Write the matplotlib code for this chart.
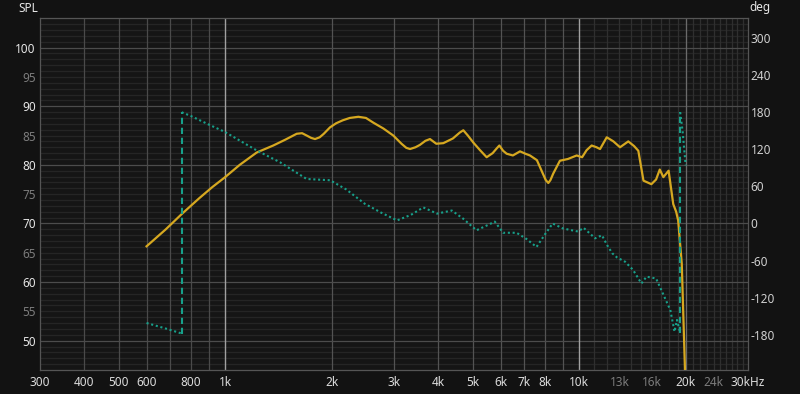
import matplotlib
matplotlib.use("Agg")
import matplotlib.pyplot as plt
import numpy as np

# SPL magnitude (dB)
spl_freq = [600, 680, 754, 845, 920, 1000, 1100, 1228, 1368, 1480, 1593, 1650, 1700, 1750,
            1795, 1850, 1900, 1979, 2060, 2150, 2250, 2379, 2500, 2622, 2800, 2986, 3150,
            3250, 3330, 3450, 3550, 3680, 3791, 3950, 4135, 4400, 4600, 4709, 4850, 5026,
            5250, 5481, 5700, 5850, 5953, 6100, 6241, 6500, 6809, 7050, 7265, 7600, 7900,
            8050, 8186, 8300, 8450, 8826, 9300, 9845, 10200, 10500, 10850, 11200, 11460,
            11970, 12500, 13050, 13770, 14300, 14700, 15200, 15600, 16000, 16500, 16900,
            17300, 17900, 18450, 18800, 19050, 19500, 19900, 20000]
spl_db = [66.1, 69.0, 71.6, 74.3, 76.2, 77.9, 80.0, 82.1, 83.3, 84.3, 85.3, 85.4, 85.0, 84.6,
          84.4, 84.7, 85.3, 86.4, 87.1, 87.6, 88.0, 88.2, 88.0, 87.2, 86.2, 85.0, 83.6,
          82.9, 82.7, 83.0, 83.4, 84.1, 84.4, 83.6, 83.7, 84.5, 85.5, 85.9, 85.0, 83.8,
          82.5, 81.3, 82.0, 82.8, 83.3, 82.4, 81.9, 81.6, 82.3, 81.9, 81.6, 80.8, 78.5,
          77.4, 76.9, 77.4, 78.5, 80.7, 81.0, 81.6, 81.3, 82.5, 83.3, 83.0, 82.7,
          84.7, 84.0, 83.0, 84.0, 83.2, 82.4, 77.3, 77.0, 76.7, 77.5, 79.2,
          77.9, 79.0, 73.3, 72.0, 70.5, 63.1, 45.5, 40.0]

# phase (deg), split where it wraps from -180 to +180
phase_freq_1 = [600, 680, 754]
phase_deg_1 = [-161, -170, -178]
phase_freq_2 = [754, 800, 900, 1000, 1230, 1430, 1700, 1980, 2200, 2480, 2750, 3060, 3350,
                3630, 3970, 4370, 4700, 5130, 5450, 5780, 6100, 6660, 7100, 7580, 8000, 8420,
                9000, 9930, 10300, 11100, 11600, 12000, 12400, 12800, 13500, 14200, 15000,
                15500, 16500, 17300, 18100, 18600, 18900, 19300]
phase_deg_2 = [180, 174, 160, 148, 118, 99, 72, 70, 55, 32, 18, 5, 14,
               26, 16, 21, 8, -11, -4, 3, -15, -15, -25, -38, -18, 0,
               -8, -13, -7, -24, -19, -35, -48, -55, -62, -75, -97,
               -86, -89, -115, -140, -175, -156, -177]
phase_freq_3 = [19300, 19600, 20000]
phase_deg_3 = [180, 150, 94]

x_ticks = [300, 400, 500, 600, 800, 1000, 2000, 3000, 4000, 5000, 6000, 7000, 8000,
           10000, 13000, 16000, 20000, 24000, 30000]
x_labels = ["300", "400", "500", "600", "800", "1k", "2k", "3k", "4k", "5k", "6k", "7k", "8k",
            "10k", "13k", "16k", "20k", "24k", "30kHz"]
x_dim = ["13k", "16k", "24k"]
spl_ticks = [50, 55, 60, 65, 70, 75, 80, 85, 90, 95, 100]
deg_ticks = [-180, -120, -60, 0, 60, 120, 180, 240, 300]

BG = "#121212"
YELLOW = "#d6a820"
TEAL = "#17a08a"

plt.rcParams["font.family"] = ["Noto Sans", "DejaVu Sans"]
plt.rcParams["axes.unicode_minus"] = False

fig = plt.figure(figsize=(8.0, 3.94), dpi=100, facecolor=BG)
ax = fig.add_axes([0.05, 0.061, 0.885, 0.8925])
ax.set_facecolor("#151515")
ax.set_xscale("log")
ax.set_xlim(300, 30000)
ax.set_ylim(45, 105)

# grid: faint 1 dB lines first, then verticals, then the brighter ones on top
for v in range(46, 105):
    if v % 10:
        ax.axhline(v, color="#252525", lw=0.9, zorder=0)
grid_100 = np.arange(400, 1000, 100)
grid_1k = np.arange(2000, 10000, 1000)
grid_fine = np.arange(11000, 30000, 1000)
for f in grid_fine:
    ax.axvline(f, color="#2f2f2f", lw=0.9, zorder=0.1)
for f in grid_100:
    ax.axvline(f, color="#4a4a4a", lw=0.9, zorder=0.2)
for f in grid_1k:
    ax.axvline(f, color="#535353", lw=0.9, zorder=0.2)
for v in range(50, 105, 10):
    ax.axhline(v, color="#4c4c4c", lw=0.9, zorder=0.3)
ax.axvline(20000, color="#6a6a6a", lw=0.9, zorder=0.4)
for f in [1000, 10000]:
    ax.axvline(f, color="#a0a0a0", lw=1.0, zorder=0.5)

ax.plot(spl_freq, spl_db, color=YELLOW, lw=1.6, zorder=3, solid_joinstyle="round")

ax.set_xticks(x_ticks)
ax.set_xticklabels(x_labels)
ax.xaxis.set_minor_locator(matplotlib.ticker.NullLocator())
ax.set_yticks(spl_ticks)
ax.tick_params(axis="both", length=0, labelsize=8.5, colors="#e2e2e2")
ax.tick_params(axis="x", pad=4)
ax.tick_params(axis="y", pad=3)
for lab in ax.get_xticklabels():
    lab.set_color("#7c7c7c" if lab.get_text() in x_dim else "#dcdcdc")
for lab, v in zip(ax.get_yticklabels(), spl_ticks):
    lab.set_color("#e6e6e6" if v % 10 == 0 else "#7c7c7c")
for name, sp in ax.spines.items():
    sp.set_color("#555555")
    sp.set_linewidth(0.9)

ax2 = ax.twinx()
ax2.set_ylim(-237, 332)
ax2.set_yticks(deg_ticks)
ax2.tick_params(axis="y", length=0, labelsize=8.5, colors="#d0d0d0", pad=2)
for sp in ax2.spines.values():
    sp.set_visible(False)

dot = (0, (1.0, 1.3))
dash = (0, (3.0, 1.8))
for fx, dy in [(phase_freq_1, phase_deg_1), (phase_freq_2, phase_deg_2), (phase_freq_3, phase_deg_3)]:
    ax2.plot(fx, dy, color=TEAL, lw=1.5, linestyle=dot, zorder=2)
# wrap connectors
ax2.plot([phase_freq_1[-1], phase_freq_2[0]], [phase_deg_1[-1], phase_deg_2[0]],
         color=TEAL, lw=1.5, linestyle=dash)
ax2.plot([phase_freq_2[-1], phase_freq_3[0]], [phase_deg_2[-1], phase_deg_3[0]],
         color=TEAL, lw=1.5, linestyle=dash)

fig.text(28 / 800, 1 - 8 / 394, "SPL", color="#e6e6e6", fontsize=8.5, ha="center", va="center")
fig.text(760 / 800, 1 - 8 / 394, "deg", color="#e6e6e6", fontsize=8.5, ha="center", va="center")

fig.savefig("out.png", dpi=100, facecolor=BG)
